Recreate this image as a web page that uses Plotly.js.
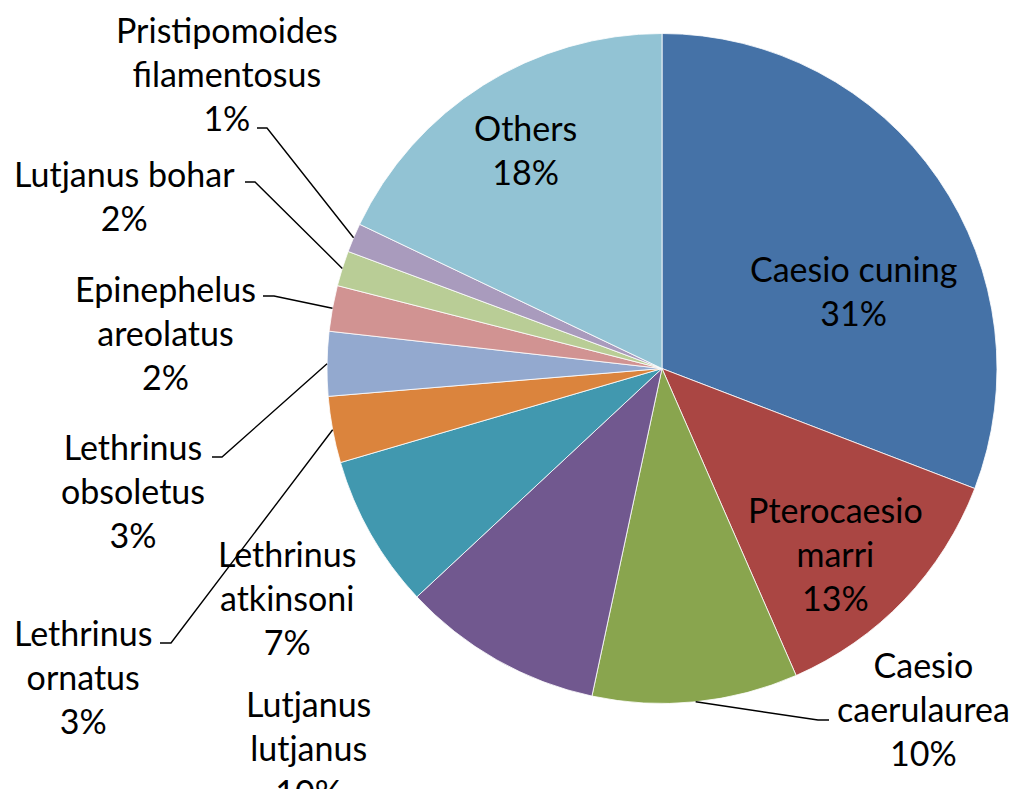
<!DOCTYPE html>
<html>
<head>
<meta charset="utf-8">
<script src="https://cdn.plot.ly/plotly-3.0.1.min.js"></script>
<style>html,body{margin:0;padding:0;background:#fff;}#chart{width:1017px;height:789px;}</style>
</head>
<body>
<div id="chart"></div>
<script>
// ---- data ----
var species = ["Caesio cuning", "Pterocaesio marri", "Caesio caerulaurea", "Lutjanus lutjanus",
  "Lethrinus atkinsoni", "Lethrinus ornatus", "Lethrinus obsoletus", "Epinephelus areolatus",
  "Lutjanus bohar", "Pristipomoides filamentosus", "Others"];
var shares = [30.8, 12.6, 9.9, 9.7, 7.4, 3.2, 3.1, 2.2, 1.7, 1.4, 17.9];
var colors = ["#4572A7", "#AA4643", "#89A54E", "#71588F", "#4198AF", "#DB843D",
  "#93A9CF", "#D19392", "#B9CD96", "#A99BBD", "#92C3D4"];

// ---- layout constants (pixels) ----
var W = 1017, H = 789;
var CX = 662, CY = 368.5, R = 335;
function px(x) { return x / W; }
function py(y) { return 1 - y / H; }

// label block centres and whether the name is wrapped on its space
var labelPos = [
  [853, 291, false], [835, 553, true], [923, 708, true], [308, 747, true],
  [287, 597, true], [83, 676, true], [133, 491, true], [165, 332, true],
  [124, 195, false], [227, 74, true], [525, 150, false]
];
// leader lines: index -> [points near the label], drawn to slice arc midpoint
var leaders = {
  9: [[257, 128], [267, 128]],
  8: [[245, 182], [255, 182]],
  7: [[263, 296], [274, 296]],
  6: [[212, 457], [222, 457]],
  5: [[160, 643], [171, 643]],
  2: [[829, 720], [818, 720]]
};

var total = shares.reduce(function (a, b) { return a + b; }, 0);
var FONT = {family: "Lato, 'Open Sans', sans-serif", size: 34, color: "#000"};

var annotations = [];
species.forEach(function (name, i) {
  var pct = Math.round(shares[i] / total * 100) + "%";
  var p = labelPos[i];
  var nm = p[2] ? name.replace(" ", "<br>") : name;
  annotations.push({
    x: px(p[0]), y: py(p[1]), xref: "paper", yref: "paper",
    xanchor: "center", yanchor: "middle", align: "center",
    text: nm + "<br>" + pct, showarrow: false, font: FONT
  });
});

// mid angles (clockwise from 12 o'clock)
var cum = 0, mids = [];
shares.forEach(function (v) {
  var a0 = cum / total * 360; cum += v;
  var a1 = cum / total * 360;
  mids.push((a0 + a1) / 2);
});

var shapes = [];
Object.keys(leaders).forEach(function (k) {
  var i = +k;
  var th = mids[i] * Math.PI / 180;
  var ex = CX + R * Math.sin(th), ey = CY - R * Math.cos(th);
  var pts = leaders[k];
  var path = "M" + px(pts[0][0]) + "," + py(pts[0][1]) +
    " L" + px(pts[1][0]) + "," + py(pts[1][1]) +
    " L" + px(ex) + "," + py(ey);
  shapes.push({type: "path", xref: "paper", yref: "paper", path: path,
    line: {color: "#000", width: 1.4}, layer: "above"});
});

var trace = {
  type: "pie",
  labels: species,
  values: shares,
  sort: false,
  direction: "clockwise",
  rotation: 0,
  textinfo: "none",
  hoverinfo: "label+percent",
  marker: {colors: colors, line: {color: "#ffffff", width: 0.8}},
  domain: {x: [px(CX - R), px(CX + R)], y: [py(CY + R), py(CY - R)]},
  showlegend: false
};

var layout = {
  width: W, height: H,
  margin: {l: 0, r: 0, t: 0, b: 0},
  paper_bgcolor: "#fff",
  showlegend: false,
  annotations: annotations,
  shapes: shapes
};

Plotly.newPlot("chart", [trace], layout, {displayModeBar: false, staticPlot: true});
</script>
</body>
</html>
